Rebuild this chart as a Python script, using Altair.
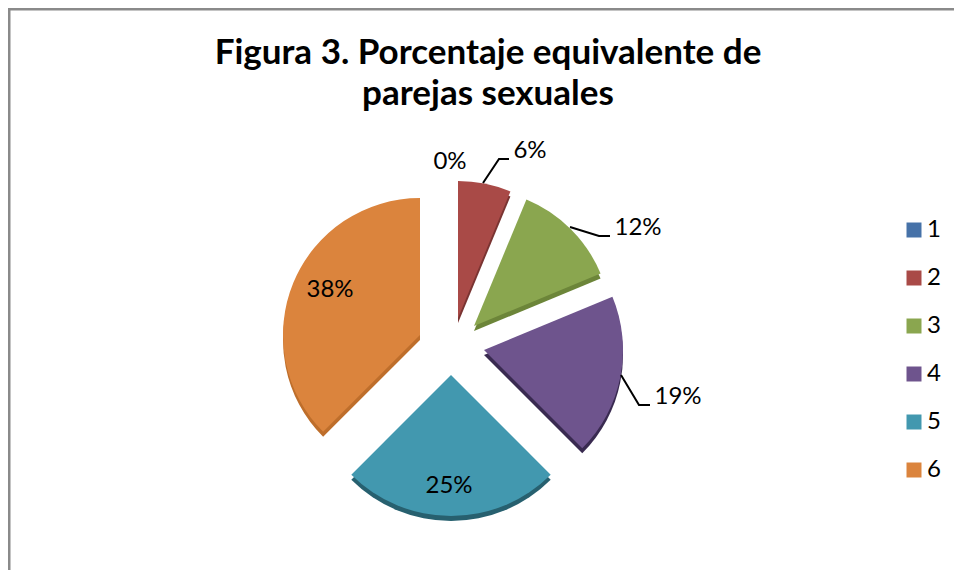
import math
import altair as alt
import pandas as pd

categories = ["1", "2", "3", "4", "5", "6"]
shares = [0, 6.25, 12.5, 18.75, 25, 37.5]
labels = ["0%", "6%", "12%", "19%", "25%", "38%"]
face_colors = ["#4672A8", "#A94A47", "#8AA64F", "#6E548D", "#4298AF", "#DB843D"]
edge_colors = ["#33557F", "#7A3432", "#6C8539", "#392A50", "#27606F", "#BE6E2B"]
label_x = [450, 530, 638, 678, 449, 330]
label_y = [162, 151, 228, 397, 486, 290]
apex_x = [458, 458, 474, 484, 451, 420]
apex_y = [318, 318, 326, 350, 375, 335]
radii = [137, 137, 137, 139, 141, 137]
leader_id = [2, 2, 2, 3, 3, 3, 4, 4, 4]
leader_x = [483, 499, 509, 570, 599, 610, 621, 639, 650]
leader_y = [183, 159, 159, 227, 236, 236, 375, 405, 405]
title_lines = ["Figura 3. Porcentaje equivalente de", "parejas sexuales"]
FONT = "Lato"
DEPTH = 5
W, H = 946, 562

starts, ends = [], []
run = 0
for s in shares:
    starts.append(run)
    ends.append(run + s)
    run += s

df = pd.DataFrame({"cat": categories, "start": starts, "end": ends, "cx": apex_x, "cy": apex_y, "r": radii,
                   "cy2": [v + DEPTH for v in apex_y], "label": labels, "lx": label_x, "ly": label_y})
leaders = pd.DataFrame({"id": leader_id, "x": leader_x, "y": leader_y, "o": range(len(leader_x))})

xs = alt.Scale(domain=[8, 8 + W], range=[0, W])
ys = alt.Scale(domain=[8, 8 + H], range=[0, H])
X = lambda f: alt.X(f, type="quantitative", scale=xs, axis=None)
Y = lambda f: alt.Y(f, type="quantitative", scale=ys, axis=None)
theta_scale = alt.Scale(domain=[0, 100], range=[0, 2 * math.pi])
radius = alt.Radius("r:Q", scale=None)

side = alt.Chart(df).mark_arc().encode(
    x=X("cx"), y=Y("cy2"), radius=radius,
    theta=alt.Theta("start:Q", scale=theta_scale), theta2="end:Q",
    color=alt.Color("cat:N", scale=alt.Scale(domain=categories, range=edge_colors), legend=None),
)
face = alt.Chart(df).mark_arc().encode(
    x=X("cx"), y=Y("cy"), radius=radius,
    theta=alt.Theta("start:Q", scale=theta_scale), theta2="end:Q",
    fill=alt.Fill("cat:N", scale=alt.Scale(domain=categories, range=face_colors),
                  legend=alt.Legend(title=None, orient="none", legendX=894, legendY=210,
                                    symbolType="square", symbolSize=225, symbolStrokeWidth=0,
                                    labelFont=FONT, labelFontSize=24, labelColor="#000000",
                                    labelOffset=1, rowPadding=24, symbolOpacity=1)),
)
lines = alt.Chart(leaders).mark_line(color="#000000", strokeWidth=2).encode(
    x=X("x"), y=Y("y"), detail="id:N", order="o:Q")
text = alt.Chart(df).mark_text(font=FONT, fontSize=24, color="#000000", align="center", baseline="middle").encode(
    x=X("lx"), y=Y("ly"), text="label:N")
one = pd.DataFrame({"a": [0]})
top_border = alt.Chart(one).mark_rule(color="#8A8A8A", strokeWidth=3).encode(
    x=alt.value(0), x2=alt.value(W), y=alt.value(1))
left_border = alt.Chart(one).mark_rule(color="#8A8A8A", strokeWidth=3).encode(
    x=alt.value(1), y=alt.value(0), y2=alt.value(H))

chart = alt.layer(top_border, left_border, side, face, lines, text).resolve_scale(
    color="independent", fill="independent"
).properties(
    width=W, height=H,
    padding=0,
    autosize=alt.AutoSizeParams(type="none"),
    title=alt.TitleParams(text=title_lines, font=FONT, fontSize=35, fontWeight="bold", color="#000000",
                          lineHeight=41, anchor="middle", dx=7, offset=-105),
).configure_view(stroke=None)

chart.save("out.html", embed_options={"renderer": "svg", "actions": False})
